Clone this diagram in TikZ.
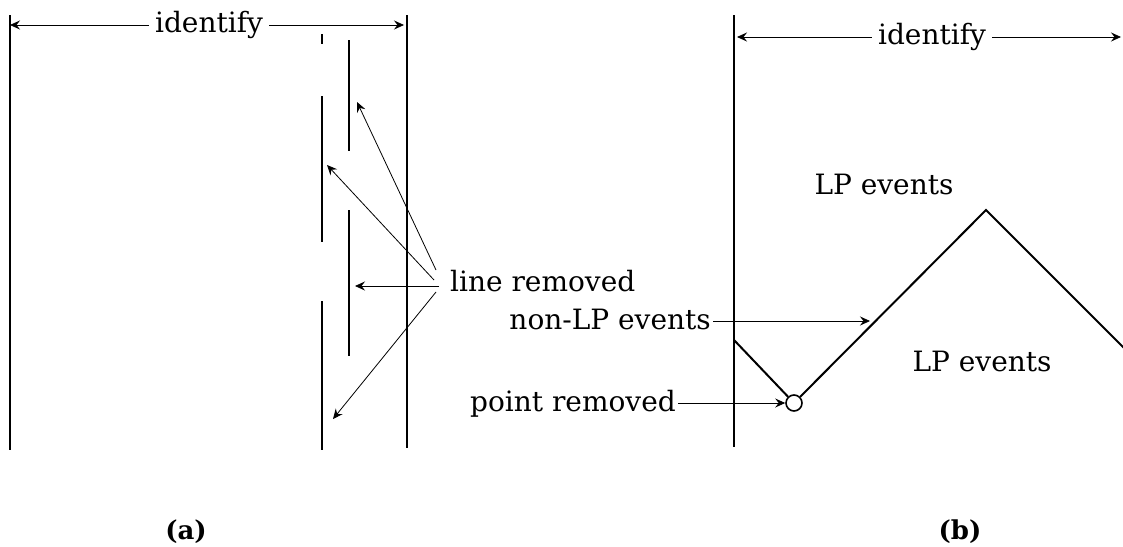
\documentclass[tikz,border=0pt]{standalone}
\usepackage{fontspec}
\setmainfont{DejaVu Serif}
\usetikzlibrary{arrows.meta,calc}

\begin{document}
\begin{tikzpicture}[x=1pt,y=-1pt,
  wall/.style={line width=2.4pt},
  ptr/.style={line width=0.8pt,-{Stealth[length=10pt,width=9pt,inset=3.5pt]}},
  txt/.style={inner sep=0pt,font=\fontsize{28}{34}\selectfont},
  panellabel/.style={inner sep=0pt,font=\fontsize{26}{30}\selectfont\bfseries}]
\useasboundingbox (0,0) rectangle (1123,546);

% ---------- panel (a) ----------
\coordinate (aL1) at (10,15);   \coordinate (aL2) at (10,450);
\coordinate (aR1) at (407,15);  \coordinate (aR2) at (407,448);
\draw[wall] (aL1) -- (aL2);
\draw[wall] (aR1) -- (aR2);

% broken lines between the walls
\coordinate (c1a) at (322,34);  \coordinate (c1b) at (322,44);
\coordinate (c2a) at (322,96);  \coordinate (c2b) at (322,242);
\coordinate (c3a) at (322,301); \coordinate (c3b) at (322,450);
\coordinate (d1a) at (349,40);  \coordinate (d1b) at (349,151);
\coordinate (d2a) at (349,210); \coordinate (d2b) at (349,356);
\draw[wall] (c1a) -- (c1b);
\draw[wall] (c2a) -- (c2b);
\draw[wall] (c3a) -- (c3b);
\draw[wall] (d1a) -- (d1b);
\draw[wall] (d2a) -- (d2b);

% identify span
\node[txt,anchor=base] (idA) at (209,32) {identify};
\draw[ptr] ($(idA.base west)+(-6,-7)$) -- ($(idA.base west -| aL1)+(0,-7)$);
\draw[ptr] ($(idA.base east)+(6,-7)$) -- ($(idA.base east -| aR1)+(-3,-7)$);

% line removed
\node[txt,anchor=base west] (lr) at (450,291) {line removed};
\coordinate (t1) at (357,102);
\coordinate (t2) at (327,165);
\coordinate (t4) at (333,419);
\draw[ptr] ($(lr.base west)+(-14,-21)$) -- (t1);
\draw[ptr] ($(lr.base west)+(-16,-11)$) -- (t2);
\draw[ptr] ($(lr.base west)+(-11,-5)$) -- ($(lr.base west)+(-95,-5)$);
\draw[ptr] ($(lr.base west)+(-14,1)$) -- (t4);

\node[panellabel] (capA) at (186,532) {(a)};

% ---------- panel (b) ----------
\coordinate (bL1) at (734,15);  \coordinate (bL2) at (734,447);
\draw[wall] (bL1) -- (bL2);

\node[txt,anchor=base] (idB) at (932,44) {identify};
\coordinate (bEnd) at (1121,40);
\draw[ptr] ($(idB.base west)+(-6,-7)$) -- ($(idB.base west -| bL1)+(3,-7)$);
\draw[ptr] ($(idB.base east)+(6,-7)$) -- ($(idB.base east -| bEnd)+(0,-7)$);

% zigzag boundary
\coordinate (z0) at (734,340);
\node[circle,draw,line width=1.6pt,minimum size=16pt,inner sep=0pt] (pr) at (794,403) {};
\coordinate (pk) at (986,210);
\coordinate (z3) at (1125,349);
\draw[line width=2pt] (z0) -- (pr) -- (pk) -- (z3);

\node[txt,anchor=base] (lp1) at (884,194) {LP events};
\node[txt,anchor=base] (lp2) at (982,371) {LP events};

\node[txt,anchor=base east] (nlp) at (711,329) {non-LP events};
\coordinate (nlpTip) at (870,321);
\draw[ptr] ($(nlp.base east)+(2,-8)$) -- ($(nlp.base east -| nlpTip)+(0,-8)$);

\node[txt,anchor=base east] (prl) at (676,411) {point removed};
\draw[ptr] ($(prl.base east)+(2,-8)$) -- ($(prl.base east -| pr.west)+(0,-8)$);

\node[panellabel] (capB) at (960,532) {(b)};
\end{tikzpicture}
\end{document}
